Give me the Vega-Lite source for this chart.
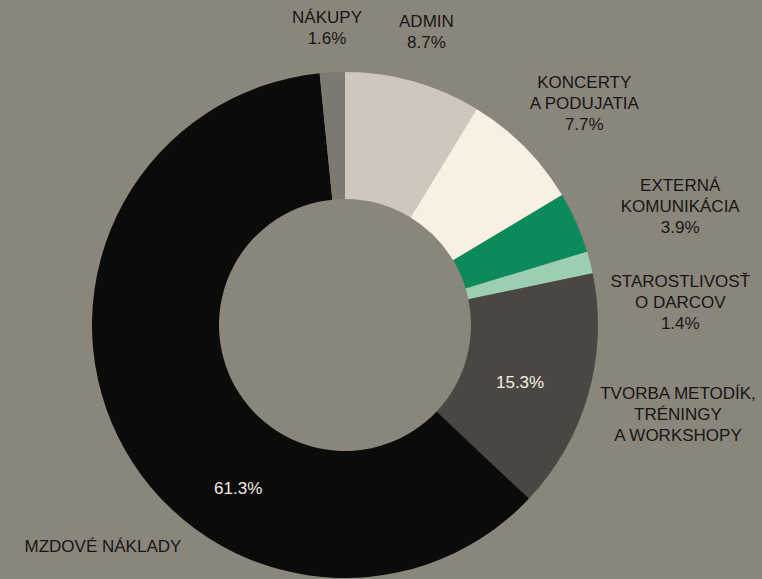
{
  "$schema": "https://vega.github.io/schema/vega-lite/v6.json",
  "width": 690,
  "height": 650,
  "autosize": "none",
  "padding": {"left": 0, "top": 0, "right": 72, "bottom": 0},
  "background": "#8b867b",
  "config": {
    "view": {"stroke": null},
    "text": {"font": "Liberation Sans", "fontSize": 17, "align": "center", "baseline": "middle", "lineBreak": "\n", "lineHeight": 21, "color": "#161614"}
  },
  "data": {
    "values": [
      {"category": "ADMIN", "value": 8.7, "order": 1, "label": "ADMIN\n8.7%", "inner": ""},
      {"category": "KONCERTY A PODUJATIA", "value": 7.7, "order": 2, "label": "KONCERTY\nA PODUJATIA\n7.7%", "inner": ""},
      {"category": "EXTERNÁ KOMUNIKÁCIA", "value": 3.9, "order": 3, "label": "EXTERNÁ\nKOMUNIKÁCIA\n3.9%", "inner": ""},
      {"category": "STAROSTLIVOSŤ O DARCOV", "value": 1.4, "order": 4, "label": "STAROSTLIVOSŤ\nO DARCOV\n1.4%", "inner": ""},
      {"category": "TVORBA METODÍK, TRÉNINGY A WORKSHOPY", "value": 15.3, "order": 5, "label": "TVORBA METODÍK,\nTRÉNINGY\nA WORKSHOPY", "inner": "15.3%"},
      {"category": "MZDOVÉ NÁKLADY", "value": 61.3, "order": 6, "label": "MZDOVÉ NÁKLADY", "inner": "61.3%"},
      {"category": "NÁKUPY", "value": 1.6, "order": 7, "label": "NÁKUPY\n1.6%", "inner": ""}
    ]
  },
  "transform": [
    {"stack": "value", "groupby": [], "sort": [{"field": "order", "order": "ascending"}], "as": ["v0", "v1"]},
    {"calculate": "(datum.v0 + datum.v1) / 2", "as": "mid"}
  ],
  "layer": [
    {
      "mark": {"type": "arc", "outerRadius": 253, "innerRadius": 126},
      "encoding": {
        "theta": {"field": "v0", "type": "quantitative", "scale": {"domain": [0, 99.9]}},
        "theta2": {"field": "v1"},
        "color": {
          "field": "category",
          "type": "nominal",
          "legend": null,
          "scale": {
            "domain": ["ADMIN", "KONCERTY A PODUJATIA", "EXTERNÁ KOMUNIKÁCIA", "STAROSTLIVOSŤ O DARCOV", "TVORBA METODÍK, TRÉNINGY A WORKSHOPY", "MZDOVÉ NÁKLADY", "NÁKUPY"],
            "range": ["#cfc7bb", "#f8f0e3", "#0d8a5c", "#9ccfb1", "#4a4743", "#0b0b09", "#7c7a70"]
          }
        }
      }
    },
    {
      "transform": [{"filter": "datum.order == 1"}],
      "mark": {"type": "text", "radius": 305, "dx": -1, "dy": -9},
      "encoding": {"theta": {"field": "mid", "type": "quantitative"}, "text": {"field": "label"}}
    },
    {
      "transform": [{"filter": "datum.order == 2"}],
      "mark": {"type": "text", "radius": 330, "dx": 5, "dy": -10},
      "encoding": {"theta": {"field": "mid", "type": "quantitative"}, "text": {"field": "label"}}
    },
    {
      "transform": [{"filter": "datum.order == 3"}],
      "mark": {"type": "text", "radius": 360, "dx": 6, "dy": 7},
      "encoding": {"theta": {"field": "mid", "type": "quantitative"}, "text": {"field": "label"}}
    },
    {
      "transform": [{"filter": "datum.order == 4"}],
      "mark": {"type": "text", "radius": 345, "dx": 1, "dy": 42},
      "encoding": {"theta": {"field": "mid", "type": "quantitative"}, "text": {"field": "label"}}
    },
    {
      "transform": [{"filter": "datum.order == 5"}],
      "mark": {"type": "text", "radius": 346, "dx": 0, "dy": -25},
      "encoding": {"theta": {"field": "mid", "type": "quantitative"}, "text": {"field": "label"}}
    },
    {
      "transform": [{"filter": "datum.order == 6"}],
      "mark": {"type": "text", "radius": 330, "dx": 54, "dy": 76},
      "encoding": {"theta": {"field": "mid", "type": "quantitative"}, "text": {"field": "label"}}
    },
    {
      "transform": [{"filter": "datum.order == 7"}],
      "mark": {"type": "text", "radius": 298, "dx": -3, "dy": -9},
      "encoding": {"theta": {"field": "mid", "type": "quantitative"}, "text": {"field": "label"}}
    },
    {
      "transform": [{"filter": "datum.order == 5"}],
      "mark": {"type": "text", "radius": 184, "dx": -2, "dy": 8, "color": "#f4ede1"},
      "encoding": {"theta": {"field": "mid", "type": "quantitative"}, "text": {"field": "inner"}}
    },
    {
      "transform": [{"filter": "datum.order == 6"}],
      "mark": {"type": "text", "radius": 196, "dx": 69, "dy": 77, "color": "#f4ede1"},
      "encoding": {"theta": {"field": "mid", "type": "quantitative"}, "text": {"field": "inner"}}
    }
  ]
}
